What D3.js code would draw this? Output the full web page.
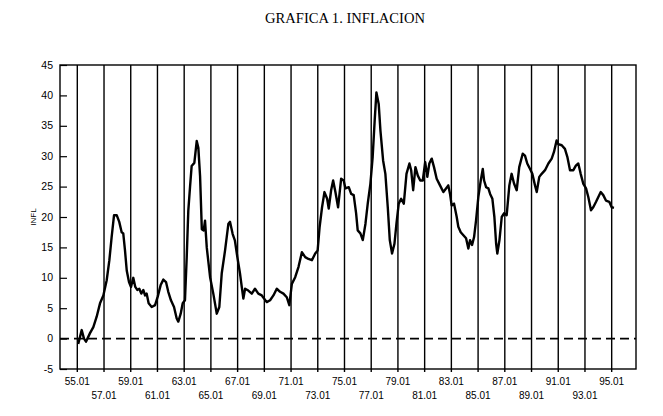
<!DOCTYPE html>
<html><head><meta charset="utf-8">
<script src="https://cdn.jsdelivr.net/npm/d3@7"></script>
<style>body{margin:0;background:#fff}svg{display:block}</style>
</head><body>
<script>
// Decimal year (YY + month fraction) and inflation values
const years = [55.07,55.33,55.50,55.65,55.95,56.20,56.45,56.70,56.95,57.20,57.40,57.57,57.75,57.95,58.14,58.32,58.44,58.57,58.70,58.87,59.02,59.19,59.34,59.49,59.64,59.79,59.94,60.07,60.19,60.34,60.57,60.82,61.02,61.24,61.44,61.64,61.81,62.01,62.24,62.44,62.56,62.74,62.89,63.06,63.19,63.31,63.44,63.56,63.76,63.94,64.06,64.19,64.32,64.46,64.56,64.69,64.94,65.18,65.44,65.63,65.81,66.06,66.31,66.43,66.63,66.80,66.98,67.18,67.31,67.43,67.56,67.80,68.06,68.30,68.55,68.81,69.18,69.43,69.68,69.93,70.18,70.43,70.68,70.87,71.06,71.31,71.56,71.81,72.06,72.30,72.56,72.81,72.99,73.14,73.32,73.50,73.70,73.82,74.00,74.15,74.32,74.52,74.75,74.94,75.07,75.32,75.50,75.69,75.87,75.99,76.19,76.37,76.57,76.74,76.94,77.11,77.26,77.39,77.56,77.69,77.89,78.06,78.24,78.39,78.56,78.74,78.89,79.06,79.24,79.44,79.64,79.86,79.99,80.14,80.31,80.49,80.67,80.86,81.04,81.20,81.35,81.53,81.70,81.90,82.15,82.40,82.60,82.77,82.90,83.02,83.20,83.40,83.52,83.70,83.90,84.10,84.27,84.40,84.55,84.70,84.85,85.02,85.20,85.35,85.45,85.60,85.77,85.90,86.07,86.22,86.35,86.44,86.60,86.77,86.94,87.14,87.34,87.51,87.69,87.89,88.08,88.34,88.51,88.68,88.89,89.06,89.26,89.39,89.58,89.76,90.01,90.26,90.51,90.68,90.88,91.00,91.26,91.50,91.68,91.88,92.13,92.33,92.50,92.68,92.87,93.08,93.25,93.45,93.62,93.83,94.00,94.18,94.37,94.57,94.82,95.00,95.17];
const infl = [-0.9,1.4,0.0,-0.5,0.9,1.9,3.6,5.8,7.1,9.6,12.9,16.7,20.3,20.3,19.2,17.5,17.3,14.5,11.2,9.3,8.5,10.0,8.5,8.0,8.2,7.4,8.0,7.1,7.4,5.8,5.2,5.5,6.9,8.8,9.7,9.3,7.7,6.3,5.2,3.3,2.8,4.1,5.8,6.3,13.4,21.1,25.0,28.4,28.9,32.5,31.4,26.7,18.0,17.8,19.4,15.0,10.1,7.4,4.1,5.2,10.7,14.5,18.9,19.2,17.2,16.1,13.4,10.7,8.5,6.6,8.2,7.9,7.4,8.2,7.4,7.1,6.0,6.3,7.1,8.2,7.7,7.4,6.8,5.5,9.0,10.1,11.8,14.2,13.4,13.1,12.9,14.0,14.5,18.4,21.6,24.1,23.0,21.4,24.4,26.0,24.1,21.6,26.3,26.0,24.7,24.9,23.8,23.6,20.6,17.8,17.3,16.2,18.9,22.2,25.5,29.9,35.9,40.5,38.6,34.2,29.3,27.1,21.6,16.2,14.0,15.6,18.9,22.2,23.0,22.2,27.1,28.8,27.7,24.4,28.2,26.8,26.0,26.0,29.0,26.6,28.8,29.6,28.2,26.3,25.2,24.1,24.7,25.2,23.8,21.9,22.2,20.0,18.4,17.5,17.0,16.5,14.8,16.2,15.4,16.7,19.5,23.3,26.0,27.9,26.0,24.9,24.7,23.8,23.0,20.0,15.6,14.0,16.2,20.0,20.6,20.3,25.2,27.1,25.5,24.4,28.2,30.4,30.1,28.8,27.9,27.1,25.2,24.1,26.6,27.1,27.7,28.8,29.6,30.7,32.6,32.0,31.8,31.2,29.9,27.7,27.7,28.5,28.8,27.1,25.5,24.7,23.3,21.1,21.6,22.5,23.3,24.1,23.6,22.7,22.5,21.6,21.5];
const xTickYears = [55,57,59,61,63,65,67,69,71,73,75,77,79,81,83,85,87,89,91,93,95];
const xTickLabels = ["55.01","57.01","59.01","61.01","63.01","65.01","67.01","69.01","71.01","73.01","75.01","77.01","79.01","81.01","83.01","85.01","87.01","89.01","91.01","93.01","95.01"];
const yTicks = [-5,0,5,10,15,20,25,30,35,40,45];
const titleText = "GRAFICA 1. INFLACION";
const yLabel = "INFL";

const W = 663, H = 416;
const L = 60, R = 636, T = 65, B = 369;
const svg = d3.select("body").append("svg").attr("width", W).attr("height", H);

const x = d3.scaleLinear().domain([53.705, 96.82]).range([L, R]);
const y = d3.scaleLinear().domain([-5, 45]).range([B, T]);

// Title
svg.append("text").attr("x", 345).attr("y", 23).attr("text-anchor", "middle")
  .attr("font-family", "Liberation Serif, Times New Roman, serif").attr("font-size", 14)
  .attr("textLength", 160).attr("lengthAdjust", "spacingAndGlyphs")
  .text(titleText);

// Vertical grid lines
svg.append("g").selectAll("line").data(xTickYears).join("line")
  .attr("x1", d => x(d)).attr("x2", d => x(d))
  .attr("y1", T).attr("y2", B + 3)
  .attr("stroke", "#000").attr("stroke-width", 1.4);

// Zero dashed line
svg.append("line").attr("x1", L).attr("x2", R).attr("y1", y(0)).attr("y2", y(0))
  .attr("stroke", "#000").attr("stroke-width", 1.6).attr("stroke-dasharray", "9,5");

// Frame
svg.append("rect").attr("x", L).attr("y", T).attr("width", R - L).attr("height", B - T)
  .attr("fill", "none").attr("stroke", "#000").attr("stroke-width", 1.4);

// Y axis (inward ticks)
const yAxis = d3.axisRight(y).tickValues(yTicks).tickSize(7).tickFormat("");
const gy = svg.append("g").attr("transform", `translate(${L},0)`).call(yAxis);
gy.select(".domain").remove();
gy.selectAll("line").attr("stroke", "#000").attr("stroke-width", 1.2);

svg.append("g").selectAll("text").data(yTicks).join("text")
  .attr("x", 53).attr("y", d => y(d) + 3.5).attr("text-anchor", "end")
  .attr("font-family", "Liberation Sans, Arial, sans-serif").attr("font-size", 10.5)
  .text(d => d);

// X labels in two rows
svg.append("g").selectAll("text").data(xTickYears).join("text")
  .attr("x", d => x(d)).attr("y", (d, i) => i % 2 === 0 ? 385 : 399)
  .attr("text-anchor", "middle")
  .attr("font-family", "Liberation Sans, Arial, sans-serif").attr("font-size", 10)
  .text((d, i) => xTickLabels[i]);

// Y label
svg.append("text").attr("transform", "translate(36,217) rotate(-90)")
  .attr("text-anchor", "middle")
  .attr("font-family", "Liberation Sans, Arial, sans-serif").attr("font-size", 8)
  .text(yLabel);

// Series
const data = years.map((t, i) => ({t, v: infl[i]}));
svg.append("path").datum(data)
  .attr("d", d3.line().x(d => x(d.t)).y(d => y(d.v)))
  .attr("fill", "none").attr("stroke", "#000").attr("stroke-width", 2.4)
  .attr("stroke-linejoin", "round");
</script>
</body></html>
